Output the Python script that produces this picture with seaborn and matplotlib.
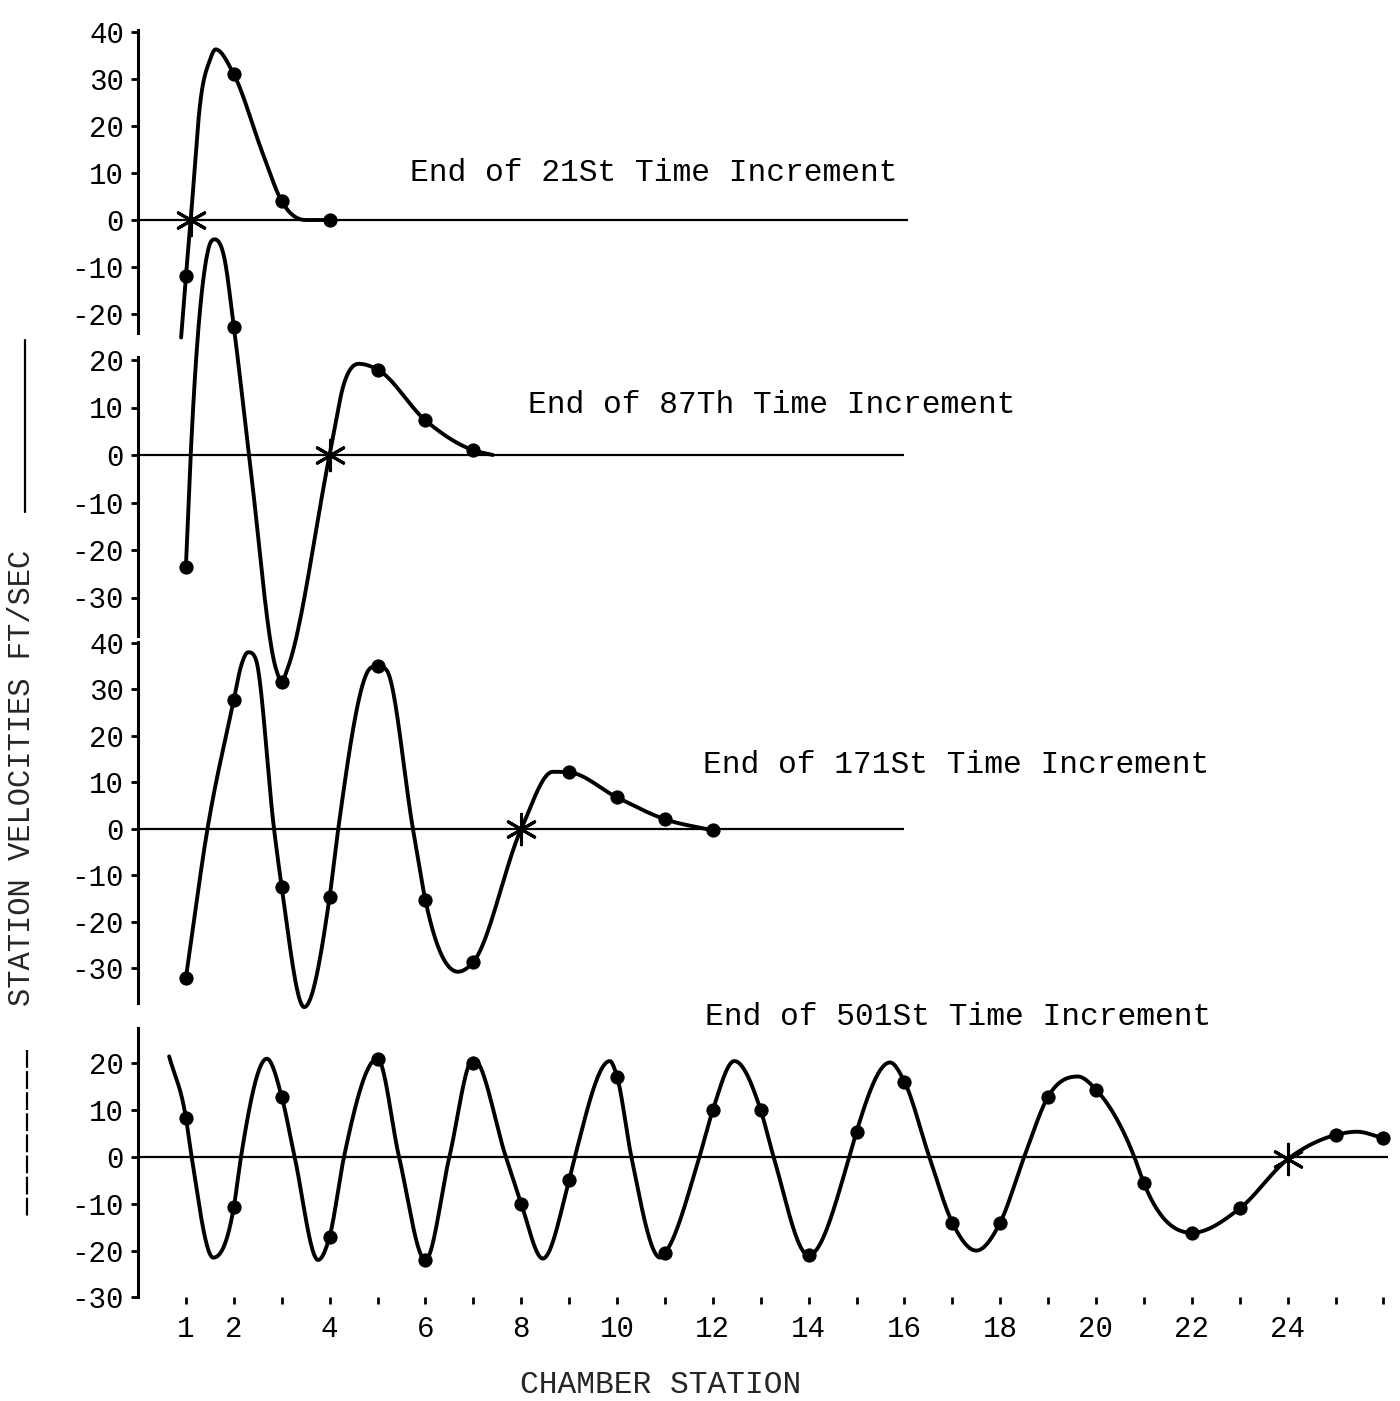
import numpy as np
import matplotlib
matplotlib.use("Agg")
import matplotlib.pyplot as plt
from matplotlib.lines import Line2D
import seaborn as sns

# plotted station velocities (ft/sec)
st21 = [1, 2, 3, 4]
v21 = [-12, 31, 4, 0]
star21_s, star21_v = [1.1], [0]
k21_s = [0.9, 1.0, 1.1, 1.3, 1.5, 1.62, 2.0, 2.61, 3.0, 3.5, 4.0]
k21_v = [-25, -12, 0, 25, 34, 36.3, 31, 14, 4, 0, 0]

st87 = [1, 2, 3, 5, 6, 7]
v87 = [-23.5, 27, -47.7, 18, 7.3, 1]
star87_s, star87_v = [4], [0]
k87_s = [1.0, 1.1, 1.46, 1.6, 1.8, 2.0, 2.32, 2.88, 3.0, 3.12, 4.0, 4.3, 4.61,
         5.0, 6.0, 7.0, 7.41]
k87_v = [-23.5, 0, 43, 45.4, 41.6, 27, 0, -45, -47.7, -45, 0, 15, 19.2,
         18, 7.3, 1, 0]

st171 = [1, 2, 3, 4, 5, 6, 7, 9, 10, 11, 12]
v171 = [-32, 27.7, -12.5, -14.6, 35, -15.3, -28.6, 12.2, 6.8, 2.1, -0.3]
star171_s, star171_v = [8], [0]
k171_s = [1.0, 1.45, 2.0, 2.15, 2.3, 2.46, 2.84, 3.0, 3.47, 4.0, 4.18, 4.85, 5.0,
          5.2, 5.74, 6.0, 6.68, 7.0, 8.0, 8.66, 9.0, 10.0, 11.0, 12.0]
k171_v = [-32, 0, 27.7, 35, 38, 36.5, 0, -12.5, -38.3, -14.6, 0, 34.6, 35,
          34, 0, -15.3, -30.7, -28.6, 0, 12.3, 12.2, 6.8, 2.1, -0.3]

st501 = [1, 2, 3, 4, 5, 6, 7, 8, 9, 10, 11, 12, 13, 14, 15, 16, 17, 18, 19, 20,
         21, 22, 23, 25, 26]
v501 = [8.4, -10.7, 12.9, -17, 21, -22, 20, -10, -4.9, 17.2, -20.5, 10, 10, -21,
        5.4, 16.1, -14, -14, 12.9, 14.4, -5.6, -16.2, -11, 4.7, 4]
star501_s, star501_v = [24], [-0.5]
k501_s = [0.65, 1.0, 1.12, 1.57, 2.0, 2.15, 2.69, 3.0, 3.27, 3.76, 4.0, 4.3, 5.0,
          5.45, 6.0, 6.5, 7.0, 7.68, 8.0, 8.45, 9.0, 9.12, 9.85, 10.0, 10.3, 10.9,
          11.0, 11.72, 12.0, 12.45, 13.0, 13.27, 14.0, 14.85, 15.0, 15.7, 16.0,
          16.52, 17.0, 17.5, 18.0, 18.5, 19.0, 19.62, 20.0, 20.8, 21.0, 22.0, 23.0,
          24.0, 25.0, 25.45, 26.0]
k501_v = [21.5, 8.4, 0, -21.5, -10.7, 0, 21, 12.9, 0, -22, -17, 0, 21,
          0, -22, 0, 21, 0, -10, -21.7, -4.9, 0, 20.5, 17.2, 0, -21.5,
          -20.5, 0, 10, 20.5, 10, 0, -21, 0, 5.4, 20.2, 16.1,
          0, -14, -20, -14, 0, 12.9, 17.2, 14.4, 0, -5.6, -16.2, -11,
          -0.5, 4.7, 5.4, 4]

titles = ["End of 21St Time Increment", "End of 87Th Time Increment",
          "End of 171St Time Increment", "End of 501St Time Increment"]


def smooth(xk, yk, n=40):
    # smooth pen line through the read knots (cubic Hermite, no overshoot)
    xk = np.asarray(xk, float)
    yk = np.asarray(yk, float)
    h = np.diff(xk)
    d = np.diff(yk) / h
    m = np.zeros_like(xk)
    m[0], m[-1] = d[0], d[-1]
    for k in range(1, len(xk) - 1):
        if d[k - 1] * d[k] > 0:
            mk = (h[k] * d[k - 1] + h[k - 1] * d[k]) / (h[k - 1] + h[k])
            lim = 3 * min(abs(d[k - 1]), abs(d[k]))
            m[k] = np.sign(mk) * min(abs(mk), lim)
    xs, ys = [], []
    for k in range(len(h)):
        t = np.linspace(0, 1, n, endpoint=(k == len(h) - 1))
        y = ((2 * t**3 - 3 * t**2 + 1) * yk[k] + (t**3 - 2 * t**2 + t) * h[k] * m[k]
             + (-2 * t**3 + 3 * t**2) * yk[k + 1] + (t**3 - t**2) * h[k] * m[k + 1])
        xs.append(xk[k] + t * h[k])
        ys.append(y)
    return np.concatenate(xs), np.concatenate(ys)


sns.set_theme(style="white")
plt.rcParams["font.family"] = ["Liberation Mono", "DejaVu Sans Mono"]
plt.rcParams["axes.unicode_minus"] = False

W, H = 1400, 1401
X0 = 138
PX = 47.9          # pixels per station
XMAX = 26.1

fig = plt.figure(figsize=(14, 14.01), dpi=100)

# zero line pixel row, px per unit, ylim, yticks, zero line length, title pos
layout = [
    (220, 4.7, (-24, 40.4), range(-20, 41, 10), 16.07, (5.68, 10.1)),
    (455, 4.75, (-38, 20.6), range(-30, 21, 10), 16.0, (8.14, 10.6)),
    (829, 4.65, (-37.4, 40.2), range(-30, 41, 10), 16.0, (11.8, 13.8)),
    (1157, 4.68, (-30, 27.5), range(-30, 21, 10), 26.1, (11.84, 29.9)),
]
series = [
    (st21, v21, star21_s, star21_v, k21_s, k21_v),
    (st87, v87, star87_s, star87_v, k87_s, k87_v),
    (st171, v171, star171_s, star171_v, k171_s, k171_v),
    (st501, v501, star501_s, star501_v, k501_s, k501_v),
]

for i, ((zero, scale, ylim, yt, zend, tpos), (st, v, ss, sv, ks, kv)) in enumerate(zip(layout, series)):
    ytop = zero - ylim[1] * scale
    ybot = zero - ylim[0] * scale
    ax = fig.add_axes([X0 / W, 1 - ybot / H, XMAX * PX / W, (ybot - ytop) / H])
    ax.set_facecolor("none")
    ax.set_xlim(0, XMAX)
    ax.set_ylim(*ylim)

    ax.hlines(0, 0, zend, color="black", lw=1.6, zorder=1)
    xs, ys = smooth(ks, kv)
    sns.lineplot(x=xs, y=ys, ax=ax, color="black", lw=2.8, sort=False,
                 estimator=None, clip_on=False, zorder=2)
    sns.scatterplot(x=st, y=v, ax=ax, color="black", s=90, edgecolor="black",
                    clip_on=False, zorder=3, legend=False)
    ax.scatter(ss, sv, marker=(6, 2, 0), s=480, color="black", linewidths=2.2,
               clip_on=False, zorder=4)

    ax.text(tpos[0], tpos[1], titles[i], ha="left", va="center", fontsize=22.5,
            color="black")

    sns.despine(ax=ax, bottom=True)
    ax.spines["left"].set_linewidth(2.2)
    ax.spines["left"].set_color("black")
    ax.set_yticks(list(yt))
    ax.set_yticklabels([str(t) for t in yt])
    ax.tick_params(axis="y", direction="out", length=5, width=2, pad=5,
                   labelsize=21, left=True, colors="black")
    if i < 3:
        ax.set_xticks([])
    else:
        stations = list(range(1, 27))
        ax.set_xticks(stations)
        ax.set_xticklabels([str(s) if (s == 1 or (s % 2 == 0 and s <= 24)) else ""
                            for s in stations])
        ax.tick_params(axis="x", direction="out", length=5, width=2, pad=8,
                       labelsize=21, bottom=True, colors="black")

fig.text(661 / W, 1 - 1385 / H, "CHAMBER STATION", ha="center", va="center",
         fontsize=22.5)
fig.text(22 / W, 1 - 778 / H, "STATION VELOCITIES FT/SEC", rotation=90,
         ha="center", va="center", fontsize=22)
fig.add_artist(Line2D([25 / W, 25 / W], [1 - 340 / H, 1 - 512 / H], color="black", lw=1.6))
fig.add_artist(Line2D([27 / W, 27 / W], [1 - 1050 / H, 1 - 1218 / H], color="black",
                      lw=1.6, linestyle=(0, (8, 1.5))))

fig.savefig("out.png", dpi=100, facecolor="white")
